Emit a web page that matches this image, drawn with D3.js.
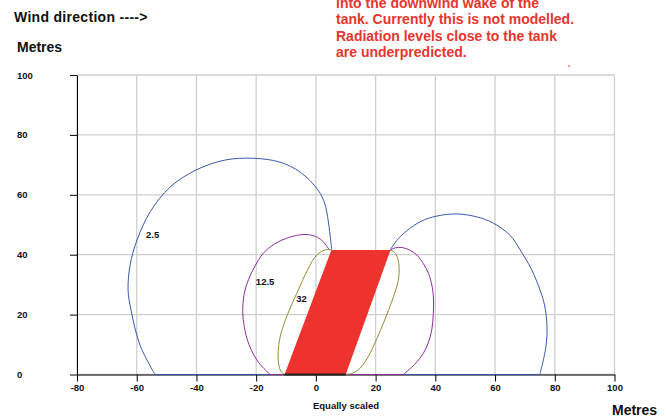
<!DOCTYPE html>
<html lang="en">
<head>
<meta charset="utf-8">
<title>Tank radiation contours</title>
<script src="https://cdn.jsdelivr.net/npm/d3@7"></script>
<style>
  html, body { margin: 0; padding: 0; background: #fff; overflow: hidden; }
  text { font-family: "Liberation Sans", Arial, Helvetica, sans-serif; font-weight: bold; }
  .tick-label { font-size: 9.5px; fill: #111; }
  .big { font-size: 14px; fill: #111; }
  .note { font-size: 14px; fill: #e8352e; }
</style>
</head>
<body>
<div id="chart"></div>
<script>
// axis ticks
var xTicks = [-80, -60, -40, -20, 0, 20, 40, 60, 80, 100];
var yTicks = [0, 20, 40, 60, 80, 100];

// tank outline (parallelogram), metres
var tank = [[-10.5, 0], [10, 0], [25, 41.6], [5.2, 41.6]];

// 2.5 contour - upwind lobe and downwind lobe
var c25Left = [[-53.9, 0], [-58.9, 9.8], [-61.9, 21.5], [-62.9, 28.2], [-62.2, 36.6],
  [-59.9, 44.9], [-55.5, 54.3], [-48.8, 62.6], [-40.1, 68.3], [-30.4, 71.6],
  [-21, 72.2], [-12, 70.9], [-5.3, 67.6], [0.7, 61.6], [3.1, 56.6], [5.3, 41.6]];
var c25Right = [[24.9, 41.6], [28.2, 46], [34.9, 51], [40.5, 52.9], [47.2, 53.6],
  [54, 52.6], [59.5, 50.5], [65, 46.5], [68.4, 41.6], [72, 35.5], [74.2, 30.5],
  [76.5, 23.5], [77.4, 16], [77, 9], [75, 0]];
var c25Base = [-53.9, 75];

// 12.5 contour
var c125Left = [[-15.3, 0], [-19.2, 4], [-22.4, 10], [-24, 16], [-24.5, 21],
  [-24, 27], [-22.6, 31.6], [-20.4, 36.2], [-17.6, 40.5], [-14, 43.5], [-9.8, 45.5],
  [-5.5, 46.6], [-2.5, 46.7], [0.5, 45.8], [2.5, 44.3], [4.5, 41.6]];
var c125Right = [[24.9, 41.6], [26.6, 42.3], [28.8, 42.4], [31.5, 41.5], [33.8, 39.9],
  [36, 37], [37.7, 33.8], [39, 29], [39.4, 24.9], [39.3, 20], [38.8, 14.9],
  [37.6, 10.5], [36, 7.1], [33, 3.3], [29.3, 0]];
var c125Base = [-15.3, 29.3];

// 32 contour
var c32Left = [[-10.5, 0], [-11.8, 1.2], [-12.6, 4.8], [-12.2, 11.5], [-9.8, 19.3],
  [-6.4, 27.1], [-2.5, 35.5], [0.3, 39.9], [3.1, 41.6], [5.3, 41.6]];
var c32Right = [[24.9, 41.6], [26.3, 40.8], [27.4, 38.8], [27.9, 35], [27.5, 31],
  [26, 26], [22.6, 17.1], [18.7, 8.2], [16.8, 4.8], [14.8, 2.1], [12.2, 0.4], [10, 0]];

var contourLabels = [
  { text: "2.5", x: -56.9, y: 46.8 },
  { text: "12.5", x: -20.1, y: 31.1 },
  { text: "32", x: -6.6, y: 25.3 }
];

var noteLines = ["into the downwind wake of the",
  "tank. Currently this is not modelled.",
  "Radiation levels close to the tank",
  "are underpredicted."];

var W = 666, H = 417;
var svg = d3.select("#chart").append("svg")
  .attr("width", W).attr("height", H);

var x = d3.scaleLinear().domain([-80, 100]).range([77, 614.5]);
var y = d3.scaleLinear().domain([0, 100]).range([374.5, 75]);

// grid
svg.append("g").selectAll("line").data(xTicks).enter().append("line")
  .attr("x1", d => x(d)).attr("x2", d => x(d))
  .attr("y1", y(0)).attr("y2", y(100))
  .attr("stroke", "#cfcfcf").attr("stroke-width", 1.3);
svg.append("g").selectAll("line").data(yTicks).enter().append("line")
  .attr("x1", x(-80)).attr("x2", x(100))
  .attr("y1", d => y(d)).attr("y2", d => y(d))
  .attr("stroke", "#cfcfcf").attr("stroke-width", 1.3);

// axes (plain hyphen for negatives, like the original)
var fmt = d => String(d);
var xAxis = svg.append("g").attr("transform", "translate(0," + y(0) + ")")
  .call(d3.axisBottom(x).tickValues(xTicks).tickFormat(fmt).tickSize(7).tickSizeOuter(0).tickPadding(3));
var yAxis = svg.append("g").attr("transform", "translate(" + x(-80) + ",0)")
  .call(d3.axisLeft(y).tickValues(yTicks).tickFormat(fmt).tickSize(7).tickSizeOuter(0));
xAxis.select(".domain").attr("stroke", "#000");
yAxis.select(".domain").attr("stroke", "#000");
xAxis.selectAll("text").attr("class", "tick-label").attr("font-family", null).attr("font-size", null);
yAxis.selectAll("text").attr("class", "tick-label").attr("font-family", null).attr("font-size", null)
  .attr("text-anchor", "start").attr("x", 17 - x(-80));

// contours
var line = d3.line().x(d => x(d[0])).y(d => y(d[1])).curve(d3.curveCatmullRom.alpha(0.5));
var contours = [
  { color: "#3d57b0", parts: [c25Left, c25Right], base: c25Base },
  { color: "#8c2f9e", parts: [c125Left, c125Right], base: c125Base },
  { color: "#8f9036", parts: [c32Left, c32Right], base: null }
];
contours.forEach(function (c) {
  c.parts.forEach(function (p) {
    svg.append("path").attr("d", line(p))
      .attr("fill", "none").attr("stroke", c.color).attr("stroke-width", 1);
  });
  if (c.base) {
    svg.append("line")
      .attr("x1", x(c.base[0])).attr("x2", x(c.base[1]))
      .attr("y1", y(0)).attr("y2", y(0))
      .attr("stroke", c.color).attr("stroke-width", 1);
  }
});

// tank
svg.append("path")
  .attr("d", d3.line().x(d => x(d[0])).y(d => y(d[1]))(tank) + "Z")
  .attr("fill", "#ee332e");
svg.append("line")
  .attr("x1", x(tank[0][0])).attr("x2", x(tank[1][0]))
  .attr("y1", y(0)).attr("y2", y(0))
  .attr("stroke", "#222").attr("stroke-width", 2);

// contour labels
svg.selectAll(".clab").data(contourLabels).enter().append("text")
  .attr("class", "tick-label")
  .attr("x", d => x(d.x)).attr("y", d => y(d.y) + 3.5)
  .text(d => d.text);

// titles
svg.append("text").attr("class", "big").attr("x", 14).attr("y", 22)
  .attr("letter-spacing", 0.3).text("Wind direction ---->");
svg.append("text").attr("class", "big").attr("x", 17).attr("y", 52).text("Metres");
svg.append("text").attr("class", "big").attr("x", 612).attr("y", 415).text("Metres");
svg.append("text").attr("class", "tick-label").attr("x", 346).attr("y", 409)
  .attr("text-anchor", "middle").text("Equally scaled");

// red note
svg.append("g").selectAll("text").data(noteLines).enter().append("text")
  .attr("class", "note").attr("x", 336)
  .attr("y", (d, i) => 7.5 + i * 16.6)
  .text(d => d);
svg.append("rect").attr("x", 568).attr("y", 65.5).attr("width", 2).attr("height", 1)
  .attr("fill", "#e8352e");
</script>
</body>
</html>
